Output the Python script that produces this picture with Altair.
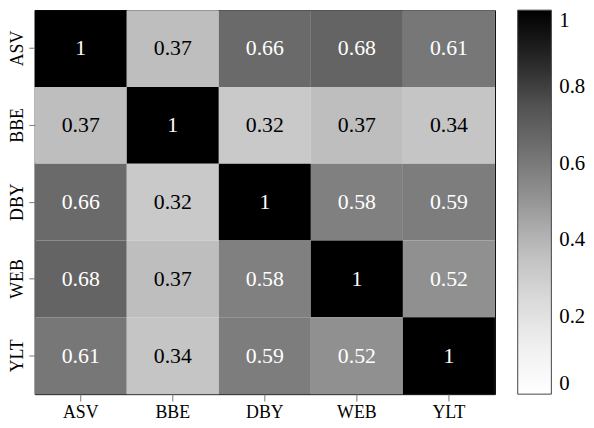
import altair as alt
import pandas as pd

labels = ["ASV", "BBE", "DBY", "WEB", "YLT"]
matrix = [
    [1.00, 0.37, 0.66, 0.68, 0.61],
    [0.37, 1.00, 0.32, 0.37, 0.34],
    [0.66, 0.32, 1.00, 0.58, 0.59],
    [0.68, 0.37, 0.58, 1.00, 0.52],
    [0.61, 0.34, 0.59, 0.52, 1.00],
]
legend_ticks = [0, 0.2, 0.4, 0.6, 0.8, 1]

# matplotlib-like "Greys" colour ramp
grey_domain = [0, 0.125, 0.25, 0.375, 0.5, 0.625, 0.75, 0.875, 1]
grey_range = ["#ffffff", "#f0f0f0", "#d9d9d9", "#bdbdbd", "#969696",
              "#737373", "#525252", "#252525", "#000000"]

rows = []
for i, r in enumerate(labels):
    for j, c in enumerate(labels):
        rows.append({"row": r, "col": c, "value": matrix[i][j],
                     "label": f"{matrix[i][j]:g}"})
df = pd.DataFrame(rows)

FONT = "Liberation Serif"

base = alt.Chart(df).encode(
    x=alt.X("col:N", sort=labels, title=None,
            axis=alt.Axis(labelAngle=0, labelFontSize=18, labelFont=FONT,
                          labelColor="black", tickColor="#777", tickSize=7,
                          labelPadding=3, domain=False)),
    y=alt.Y("row:N", sort=labels, title=None,
            axis=alt.Axis(labelAngle=-90, labelFontSize=18, labelFont=FONT,
                          labelColor="black", tickColor="#777", tickSize=6,
                          labelPadding=2, domain=False)),
)

heat = base.mark_rect().encode(
    color=alt.Color("value:Q",
                    scale=alt.Scale(domain=grey_domain, range=grey_range,
                                    interpolate="rgb"),
                    legend=alt.Legend(title=None, values=legend_ticks, format="~g",
                                      direction="vertical", gradientLength=388,
                                      gradientThickness=34, labelFontSize=21,
                                      labelFont=FONT, labelColor="black",
                                      labelOffset=8, offset=23, padding=0,
                                      gradientStrokeColor="#444",
                                      gradientStrokeWidth=1))
)

text = base.mark_text(font=FONT, fontSize=22).encode(
    text="label:N",
    color=alt.condition(alt.datum.value > 0.5, alt.value("white"), alt.value("black")),
)

chart = (heat + text).properties(
    width=465, height=388, padding={"left": 0, "top": 0, "right": 0, "bottom": 0}
).configure_view(stroke="black", strokeWidth=1)

chart.save("out.html", embed_options={"renderer": "svg", "actions": False})
